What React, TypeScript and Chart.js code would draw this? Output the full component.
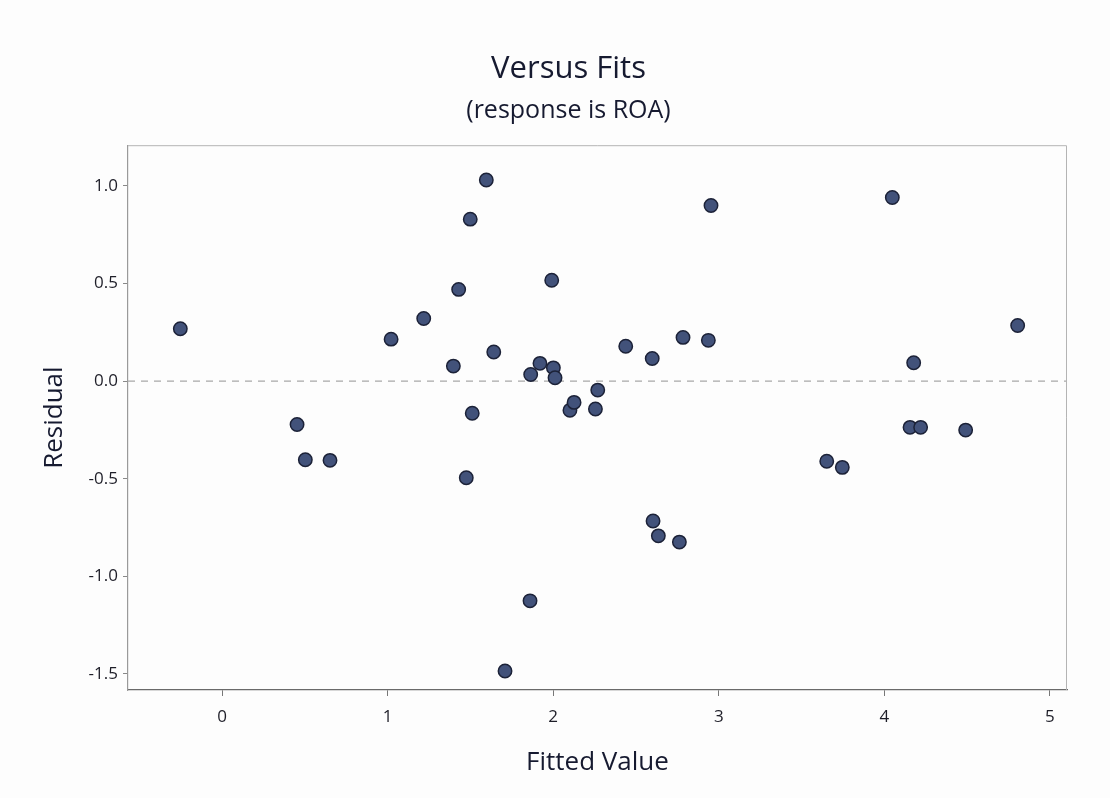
import React, { useEffect, useRef } from "react";
import { Chart, registerables } from "chart.js";

Chart.register(...registerables);

const fittedValues = [
  -0.252, 0.453, 0.503, 0.652, 1.021, 1.218, 1.397, 1.429, 1.499, 1.596,
  1.475, 1.511, 1.641, 1.864, 1.92, 1.991, 2.001, 2.011, 1.86, 1.709,
  2.101, 2.126, 2.255, 2.269, 2.438, 2.598, 2.603, 2.635, 2.762, 2.784,
  2.937, 2.953, 3.652, 3.746, 4.048, 4.177, 4.155, 4.219, 4.491, 4.805,
];
const residuals = [
  0.268, -0.222, -0.403, -0.406, 0.215, 0.321, 0.077, 0.47, 0.83, 1.031,
  -0.495, -0.165, 0.149, 0.034, 0.091, 0.517, 0.068, 0.017, -1.126, -1.486,
  -0.149, -0.109, -0.143, -0.046, 0.179, 0.116, -0.717, -0.793, -0.825, 0.224,
  0.209, 0.9, -0.411, -0.442, 0.941, 0.094, -0.237, -0.237, -0.251, 0.285,
];
const xTicks = [0, 1, 2, 3, 4, 5];
const yTicks = [-1.5, -1.0, -0.5, 0.0, 0.5, 1.0];
const xRange = [-0.568, 5.103];
const yRange = [-1.583, 1.209];
const referenceLevel = 0;

const titleText = "Versus Fits";
const subtitleText = "(response is ROA)";
const xTitle = "Fitted Value";
const yTitle = "Residual";

const FONT = "'Open Sans', 'Noto Sans', sans-serif";
const TEXT = "#161a30";

export default function App() {
  const ref = useRef<HTMLCanvasElement | null>(null);

  useEffect(() => {
    if (!ref.current) return;
    const framePlugin = {
      id: "frame",
      beforeDraw(chart: any) {
        const { ctx, width, height } = chart;
        ctx.save();
        ctx.fillStyle = "#fdfdfd";
        ctx.fillRect(0, 0, width, height);
        ctx.restore();
      },
      afterDatasetsDraw(chart: any) {
        const { ctx, chartArea: a } = chart;
        ctx.save();
        ctx.strokeStyle = "#b4b4b4";
        ctx.lineWidth = 1;
        ctx.beginPath();
        ctx.moveTo(a.left, a.top + 0.5);
        ctx.lineTo(a.right - 0.5, a.top + 0.5);
        ctx.lineTo(a.right - 0.5, a.bottom);
        ctx.stroke();
        ctx.restore();
      },
    };

    const chart = new Chart(ref.current, {
      type: "scatter",
      data: {
        datasets: [
          {
            type: "line",
            data: [
              { x: xRange[0], y: referenceLevel },
              { x: xRange[1], y: referenceLevel },
            ],
            borderColor: "#a8a8a8",
            borderWidth: 1.2,
            borderDash: [7, 6],
            pointRadius: 0,
            fill: false,
            order: 2,
          } as any,
          {
            data: fittedValues.map((x, i) => ({ x, y: residuals[i] })),
            backgroundColor: "#42527a",
            borderColor: "#1c2238",
            borderWidth: 1.5,
            pointRadius: 6.7,
            order: 1,
          },
        ],
      },
      options: {
        animation: false,
        responsive: false,
        maintainAspectRatio: false,
        layout: { padding: { left: 70, right: 43, top: 0, bottom: 0 } },
        plugins: {
          legend: { display: false },
          tooltip: { enabled: false },
          title: {
            display: true,
            text: titleText,
            color: TEXT,
            font: { family: FONT, size: 31, weight: "normal" },
            padding: { top: 51, bottom: 4 },
          },
          subtitle: {
            display: true,
            text: subtitleText,
            color: TEXT,
            font: { family: FONT, size: 25, weight: "normal" },
            padding: { top: 4, bottom: 19 },
          },
        },
        scales: {
          x: {
            type: "linear",
            min: xRange[0],
            max: xRange[1],
            afterBuildTicks: (s: any) => {
              s.ticks = xTicks.map((v) => ({ value: v }));
            },
            afterFit: (s: any) => {
              s.height = 108;
            },
            grid: {
              drawOnChartArea: false,
              drawTicks: true,
              tickLength: 6,
              color: "#777",
            },
            border: { display: true, color: "#6a6a6a", width: 1.3 },
            ticks: {
              color: "#1e1e28",
              font: { family: FONT, size: 17 },
              padding: 11,
              maxRotation: 0,
              callback: (v: any) => String(v),
            },
            title: {
              display: true,
              text: xTitle,
              color: TEXT,
              font: { family: FONT, size: 26 },
              padding: { top: 0, bottom: 20 },
            },
          },
          y: {
            type: "linear",
            min: yRange[0],
            max: yRange[1],
            afterBuildTicks: (s: any) => {
              s.ticks = yTicks.map((v) => ({ value: v }));
            },
            afterFit: (s: any) => {
              s.width = 58;
            },
            grid: {
              drawOnChartArea: false,
              drawTicks: true,
              tickLength: 5,
              color: "#888",
            },
            border: { display: true, color: "#9a9a9a", width: 1.2 },
            ticks: {
              color: "#1e1e28",
              font: { family: FONT, size: 17 },
              padding: 5,
              callback: (v: any) => Number(v).toFixed(1),
            },
            title: {
              display: true,
              text: yTitle,
              color: TEXT,
              font: { family: FONT, size: 26 },
              padding: { top: -31, bottom: 0 },
            },
          },
        },
      } as any,
      plugins: [framePlugin],
    });
    return () => chart.destroy();
  }, []);

  return (
    <div style={{ position: "fixed", left: 0, top: 0, width: 1110, height: 798 }}>
      <canvas ref={ref} width={1110} height={798} style={{ width: 1110, height: 798 }} />
    </div>
  );
}
